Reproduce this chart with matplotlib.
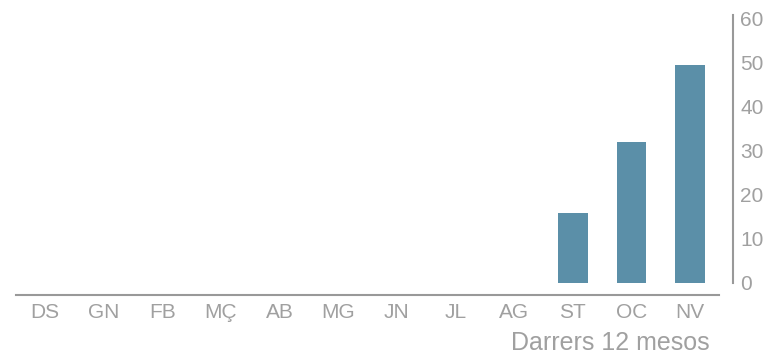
import matplotlib
matplotlib.use('Agg')
import matplotlib.pyplot as plt

months = ['DS', 'GN', 'FB', 'MÇ', 'AB', 'MG', 'JN', 'JL', 'AG', 'ST', 'OC', 'NV']
values = [0, 0, 0, 0, 0, 0, 0, 0, 0, 16, 32, 49.5]
y_ticks = [0, 10, 20, 30, 40, 50, 60]

BAR_COLOR = '#5b8fa8'
GREY = '#a0a0a0'

plt.rcParams['font.family'] = ['Liberation Sans', 'DejaVu Sans']

fig = plt.figure(figsize=(7.71, 3.55), dpi=100)
ax = fig.add_axes([15.7 / 771, 60 / 355, (719.5 - 15.7) / 771, 280.4 / 355])

ax.bar(range(len(months)), values, width=0.51, color=BAR_COLOR)
ax.set_xlim(-0.5, 11.5)
ax.set_ylim(-2.73, 61)

for s in ['top', 'left']:
    ax.spines[s].set_visible(False)
ax.spines['bottom'].set_color('#999999')
ax.spines['bottom'].set_linewidth(1.5)
ax.spines['right'].set_color('#999999')
ax.spines['right'].set_linewidth(1.5)
ax.spines['right'].set_position(('outward', 10))
ax.spines['right'].set_bounds(0, 61)

ax.yaxis.tick_right()
ax.set_yticks(y_ticks)
ax.set_xticks(range(len(months)))
ax.set_xticklabels(months)
ax.tick_params(axis='both', length=0, colors=GREY, labelsize=15)
ax.tick_params(axis='y', pad=5)
ax.tick_params(axis='x', pad=6)

fig.text(710 / 771, 1 - 343 / 355, 'Darrers 12 mesos', ha='right', va='center',
         color=GREY, fontsize=18)

fig.savefig('out.png', dpi=100)
